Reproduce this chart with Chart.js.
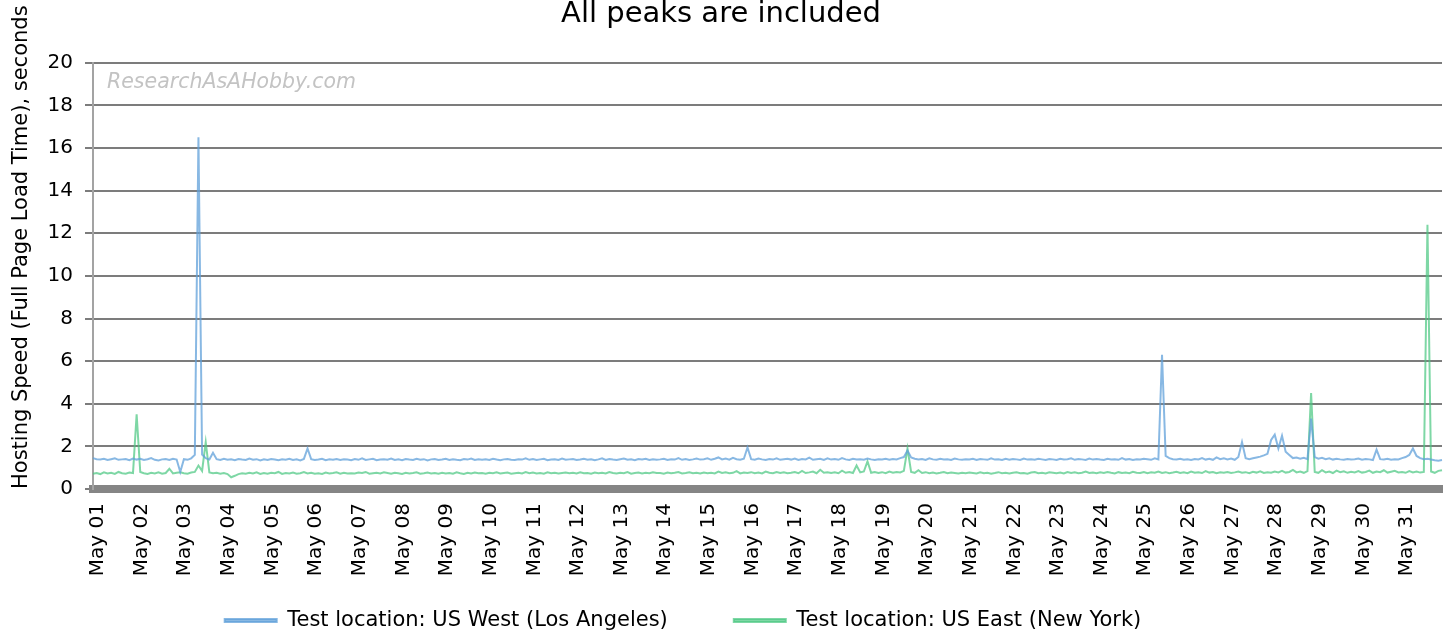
<!DOCTYPE html>
<html>
<head>
<meta charset="utf-8">
<script src="https://cdn.jsdelivr.net/npm/chart.js@4.4.1/dist/chart.umd.min.js"></script>
<style>
  html, body { margin: 0; padding: 0; background: #fff; }
  #wrap { width: 1450px; height: 636px; }
</style>
</head>
<body>
<div id="wrap"><canvas id="speedChart" width="1450" height="636"></canvas></div>
<script>
var FONT = '"DejaVu Sans", sans-serif';

var days = ['May 01', 'May 02', 'May 03', 'May 04', 'May 05', 'May 06', 'May 07', 'May 08',
  'May 09', 'May 10', 'May 11', 'May 12', 'May 13', 'May 14', 'May 15', 'May 16', 'May 17',
  'May 18', 'May 19', 'May 20', 'May 21', 'May 22', 'May 23', 'May 24', 'May 25', 'May 26',
  'May 27', 'May 28', 'May 29', 'May 30', 'May 31'];

// one test every 2 hours
var hours = ['00:00', '02:00', '04:00', '06:00', '08:00', '10:00',
  '12:00', '14:00', '16:00', '18:00', '20:00', '22:00'];

// Test location: US West (Los Angeles), seconds
var westValues = [
  1.45, 1.40, 1.38, 1.42, 1.36, 1.40, 1.44, 1.37, 1.39, 1.41, 1.35, 1.43,
  1.38, 1.42, 1.36, 1.40, 1.45, 1.37, 1.34, 1.39, 1.41, 1.36, 1.42, 1.38,
  0.80, 1.40, 1.37, 1.44, 1.60, 16.5, 1.62, 1.45, 1.38, 1.70, 1.40, 1.36,
  1.42, 1.37, 1.39, 1.35, 1.41, 1.38, 1.36, 1.43, 1.37, 1.40, 1.34, 1.39,
  1.36, 1.41, 1.38, 1.35, 1.40, 1.37, 1.42, 1.36, 1.39, 1.34, 1.41, 1.90,
  1.40, 1.36, 1.38, 1.42, 1.35, 1.39, 1.37, 1.41, 1.36, 1.40, 1.38, 1.35,
  1.41, 1.37, 1.44, 1.36, 1.39, 1.42, 1.35, 1.38, 1.40, 1.37, 1.43, 1.36,
  1.39, 1.35, 1.41, 1.38, 1.36, 1.42, 1.37, 1.40, 1.34, 1.39, 1.41, 1.36,
  1.38, 1.42, 1.36, 1.40, 1.37, 1.35, 1.41, 1.38, 1.43, 1.36, 1.39, 1.37,
  1.40, 1.36, 1.42, 1.38, 1.35, 1.39, 1.41, 1.37, 1.36, 1.40, 1.38, 1.44,
  1.37, 1.41, 1.36, 1.39, 1.42, 1.35, 1.38, 1.40, 1.36, 1.43, 1.37, 1.39,
  1.41, 1.36, 1.38, 1.42, 1.37, 1.40, 1.35, 1.39, 1.44, 1.36, 1.41, 1.38,
  1.36, 1.40, 1.43, 1.37, 1.39, 1.35, 1.41, 1.38, 1.42, 1.36, 1.40, 1.37,
  1.39, 1.42, 1.36, 1.40, 1.38, 1.45, 1.37, 1.41, 1.36, 1.39, 1.43, 1.38,
  1.40, 1.44, 1.37, 1.42, 1.48, 1.39, 1.43, 1.38, 1.46, 1.40, 1.37, 1.42,
  1.95, 1.40, 1.37, 1.43, 1.39, 1.36, 1.41, 1.38, 1.44, 1.37, 1.40, 1.42,
  1.38, 1.43, 1.36, 1.41, 1.39, 1.47, 1.37, 1.40, 1.42, 1.36, 1.44, 1.38,
  1.41, 1.37, 1.45, 1.39, 1.36, 1.42, 1.38, 1.40, 1.37, 1.43, 1.39, 1.36,
  1.40, 1.38, 1.42, 1.37, 1.41, 1.39, 1.45, 1.50, 1.80, 1.48, 1.42, 1.38,
  1.41, 1.36, 1.44, 1.39, 1.37, 1.42, 1.38, 1.40, 1.36, 1.43, 1.39, 1.37,
  1.40, 1.38, 1.42, 1.36, 1.41, 1.39, 1.37, 1.44, 1.38, 1.40, 1.36, 1.42,
  1.37, 1.41, 1.39, 1.36, 1.43, 1.38, 1.40, 1.37, 1.42, 1.39, 1.36, 1.41,
  1.39, 1.36, 1.42, 1.38, 1.40, 1.44, 1.37, 1.41, 1.39, 1.36, 1.43, 1.38,
  1.41, 1.38, 1.36, 1.42, 1.39, 1.40, 1.37, 1.45, 1.38, 1.41, 1.36, 1.40,
  1.38, 1.42, 1.40, 1.37, 1.44, 1.39, 6.30, 1.55, 1.45, 1.40, 1.38, 1.42,
  1.37, 1.40, 1.36, 1.41, 1.39, 1.45, 1.38, 1.42, 1.37, 1.48, 1.40, 1.44,
  1.39, 1.43, 1.37, 1.50, 2.20, 1.45, 1.40, 1.44, 1.48, 1.52, 1.58, 1.65,
  2.30, 2.55, 1.90, 2.50, 1.75, 1.60, 1.45, 1.48, 1.42, 1.46, 1.40, 3.30,
  1.50, 1.42, 1.46, 1.40, 1.44, 1.38, 1.42, 1.39, 1.37, 1.41, 1.38, 1.40,
  1.43, 1.37, 1.41, 1.39, 1.36, 1.85, 1.40, 1.38, 1.42, 1.37, 1.40, 1.39,
  1.45, 1.50, 1.60, 1.90, 1.55, 1.45, 1.40, 1.42, 1.38, 1.35, 1.33, 1.36
];

// Test location: US East (New York), seconds
var eastValues = [
  0.72, 0.75, 0.70, 0.78, 0.73, 0.76, 0.71, 0.80, 0.74, 0.72, 0.77, 0.75,
  3.50, 0.80, 0.74, 0.71, 0.76, 0.73, 0.78, 0.72, 0.75, 0.95, 0.73, 0.76,
  0.78, 0.74, 0.72, 0.77, 0.80, 1.10, 0.85, 2.20, 0.78, 0.74, 0.76, 0.72,
  0.75, 0.70, 0.55, 0.62, 0.70, 0.74, 0.72, 0.76, 0.73, 0.78, 0.71, 0.75,
  0.72, 0.76, 0.74, 0.80, 0.71, 0.75, 0.73, 0.77, 0.72, 0.74, 0.79, 0.73,
  0.76, 0.72, 0.74, 0.71, 0.77, 0.73, 0.75, 0.78, 0.72, 0.76, 0.73, 0.74,
  0.73, 0.77, 0.75, 0.80, 0.72, 0.74, 0.76, 0.73, 0.78, 0.75, 0.72, 0.76,
  0.74, 0.71, 0.76, 0.73, 0.75, 0.78, 0.72, 0.74, 0.77, 0.73, 0.75, 0.72,
  0.76, 0.73, 0.75, 0.72, 0.78, 0.74, 0.71, 0.76, 0.73, 0.77, 0.74, 0.75,
  0.72, 0.76, 0.74, 0.78, 0.73, 0.75, 0.77, 0.72, 0.74, 0.76, 0.73, 0.79,
  0.74, 0.77, 0.73, 0.75, 0.72, 0.78, 0.74, 0.76, 0.73, 0.75, 0.77, 0.74,
  0.76, 0.73, 0.78, 0.74, 0.75, 0.72, 0.77, 0.74, 0.76, 0.73, 0.80, 0.75,
  0.73, 0.76, 0.74, 0.79, 0.72, 0.75, 0.77, 0.73, 0.76, 0.74, 0.78, 0.75,
  0.75, 0.72, 0.77, 0.74, 0.76, 0.80, 0.73, 0.75, 0.78, 0.74, 0.76, 0.73,
  0.77, 0.74, 0.76, 0.73, 0.82, 0.75, 0.78, 0.74, 0.76, 0.84, 0.73, 0.77,
  0.75, 0.79, 0.74, 0.77, 0.73, 0.82, 0.76, 0.74, 0.80, 0.75, 0.78, 0.74,
  0.76, 0.80, 0.74, 0.85, 0.75, 0.78, 0.82, 0.74, 0.90, 0.76, 0.79, 0.75,
  0.78, 0.74, 0.86, 0.76, 0.80, 0.75, 1.10, 0.78, 0.82, 1.30, 0.76, 0.80,
  0.75, 0.79, 0.74, 0.82, 0.76, 0.80, 0.78, 0.85, 1.90, 0.80, 0.76, 0.88,
  0.75, 0.79, 0.74, 0.77, 0.73, 0.76, 0.80, 0.74, 0.77, 0.75, 0.73, 0.76,
  0.74, 0.77, 0.75, 0.73, 0.78, 0.74, 0.76, 0.72, 0.75, 0.79, 0.74, 0.76,
  0.73, 0.76, 0.78, 0.74, 0.75, 0.72, 0.77, 0.80, 0.74, 0.76, 0.73, 0.78,
  0.76, 0.74, 0.77, 0.73, 0.80, 0.75, 0.78, 0.74, 0.76, 0.82, 0.75, 0.77,
  0.74, 0.78, 0.75, 0.80, 0.76, 0.73, 0.79, 0.75, 0.77, 0.74, 0.81, 0.76,
  0.75, 0.80, 0.74, 0.78, 0.76, 0.82, 0.75, 0.79, 0.74, 0.77, 0.81, 0.75,
  0.78, 0.74, 0.82, 0.76, 0.79, 0.75, 0.84, 0.77, 0.80, 0.74, 0.78, 0.76,
  0.80, 0.75, 0.78, 0.82, 0.76, 0.79, 0.74, 0.81, 0.77, 0.83, 0.75, 0.79,
  0.76, 0.82, 0.78, 0.85, 0.77, 0.80, 0.90, 0.78, 0.82, 0.76, 0.84, 4.50,
  0.80, 0.76, 0.88, 0.78, 0.82, 0.75, 0.86, 0.79, 0.83, 0.76, 0.81, 0.78,
  0.84, 0.77, 0.80, 0.86, 0.76, 0.82, 0.79, 0.88, 0.77, 0.81, 0.85, 0.78,
  0.80, 0.76, 0.84, 0.78, 0.82, 0.77, 0.80, 12.4, 0.82, 0.76, 0.85, 0.88
];

var yTicks = [0, 2, 4, 6, 8, 10, 12, 14, 16, 18, 20];

var timeLabels = [];
days.forEach(function(day) {
  hours.forEach(function(h) { timeLabels.push(day + ' ' + h); });
});

var watermarkPlugin = {
  id: 'watermark',
  beforeDatasetsDraw: function(chart) {
    var ctx = chart.ctx;
    var area = chart.chartArea;
    ctx.save();
    ctx.font = 'italic 20.5px ' + FONT;
    ctx.fillStyle = '#c3c3c3';
    ctx.textAlign = 'left';
    ctx.textBaseline = 'middle';
    ctx.fillText('ResearchAsAHobby.com', area.left + 14, area.top + 20);
    ctx.restore();
  }
};

// the legend's item padding is also used vertically, so pull the box up
// (and a bit left, like the original) once the layout is done
var legendPlacePlugin = {
  id: 'legendPlace',
  afterLayout: function(chart) {
    var lg = chart.legend;
    if (!lg) return;
    lg.top -= 46; lg.bottom -= 46;
    lg.left -= 38; lg.right -= 38;
  }
};

var ctx = document.getElementById('speedChart').getContext('2d');
var speedChart = new Chart(ctx, {
  type: 'line',
  data: {
    labels: timeLabels,
    datasets: [{
      label: 'Test location: US West (Los Angeles)',
      data: westValues,
      borderColor: 'rgba(96,160,218,0.75)',
      backgroundColor: 'rgba(96,160,218,0.75)',
      borderWidth: 2,
      pointRadius: 0,
      tension: 0,
      fill: false
    }, {
      label: 'Test location: US East (New York)',
      data: eastValues,
      borderColor: 'rgba(76,200,130,0.72)',
      backgroundColor: 'rgba(76,200,130,0.72)',
      borderWidth: 2,
      pointRadius: 0,
      tension: 0,
      fill: false
    }]
  },
  options: {
    responsive: false,
    animation: false,
    layout: { padding: { left: 0, right: 8, top: 0, bottom: -51 } },
    plugins: {
      title: {
        display: true,
        text: 'All peaks are included',
        color: '#000',
        font: { family: FONT, size: 29, weight: 'normal' },
        padding: { top: -3, bottom: 31 }
      },
      legend: {
        position: 'bottom',
        labels: {
          color: '#000',
          font: { family: FONT, size: 21 },
          boxWidth: 52,
          boxHeight: 3,
          padding: 66
        }
      },
      tooltip: { enabled: false }
    },
    scales: {
      x: {
        type: 'category',
        grid: { display: false, drawTicks: false },
        border: { display: true, color: '#858585', width: 8 },
        ticks: {
          autoSkip: false,
          maxRotation: 90,
          minRotation: 90,
          padding: 14,
          labelOffset: 5,
          color: '#000',
          font: { family: FONT, size: 20 },
          callback: function(val, index) {
            return index % hours.length === 0 ? days[index / hours.length] : null;
          }
        },
        afterFit: function(scale) { scale.height = 101; }
      },
      y: {
        min: 0,
        max: 20,
        afterBuildTicks: function(scale) {
          scale.ticks = yTicks.map(function(v) { return { value: v }; });
        },
        ticks: {
          color: '#000',
          padding: 12,
          font: { family: FONT, size: 20 }
        },
        grid: { color: '#7c7c7c', lineWidth: 2, tickLength: 8 },
        border: { display: true, color: '#a3a3a3', width: 2 },
        title: {
          display: true,
          align: 'start',
          text: 'Hosting Speed (Full Page Load Time), seconds',
          color: '#000',
          font: { family: FONT, size: 21 },
          padding: { top: 9, bottom: 0 }
        },
        afterFit: function(scale) { scale.width = 93; }
      }
    }
  },
  plugins: [watermarkPlugin, legendPlacePlugin]
});
</script>
</body>
</html>
